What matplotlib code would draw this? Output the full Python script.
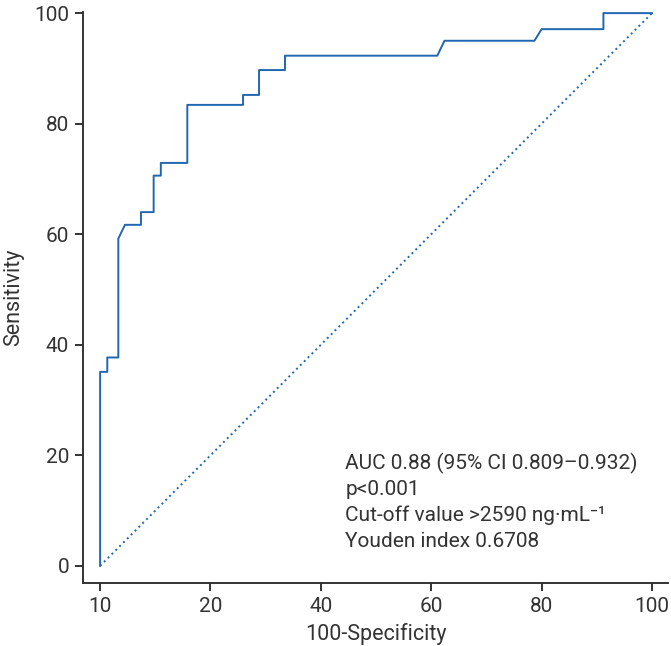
import matplotlib
matplotlib.use('Agg')
import matplotlib.pyplot as plt

# ROC curve vertices (x = 100-specificity, y = sensitivity)
fpr = [0, 0, 1.3, 1.3, 3.3, 3.3, 4.5, 7.4, 7.4, 9.7, 9.7, 11.0, 11.0, 15.8, 15.8,
       25.9, 25.9, 28.8, 28.8, 33.5, 33.5, 61.1, 62.4, 78.7, 80.0, 91.2, 91.2, 100]
tpr = [0, 35.1, 35.1, 37.7, 37.7, 59.2, 61.7, 61.7, 64.0, 64.0, 70.6, 70.6, 72.9, 72.9, 83.4,
       83.4, 85.2, 85.2, 89.7, 89.7, 92.3, 92.3, 95.0, 95.0, 97.1, 97.1, 100, 100]
ref_x = [0, 100]
ref_y = [0, 100]

xticks = [0, 20, 40, 60, 80, 100]
xtick_labels = ['10', '20', '40', '60', '80', '100']
yticks = [0, 20, 40, 60, 80, 100]

notes = ['AUC 0.88 (95% CI 0.809\u20130.932)',
         'p<0.001',
         'Cut-off value >2590 ng\u00b7mL\u207b\u00b9',
         'Youden index 0.6708']

plt.rcParams['font.family'] = ['Roboto', 'DejaVu Sans']
dark = '#333333'
blue = '#2166b0'

fig = plt.figure(figsize=(6.71, 6.46), dpi=100)
ax = fig.add_axes([0.1237, 0.0975, 0.8718, 0.8839])

ax.plot(fpr, tpr, color=blue, lw=1.4)
ax.plot(ref_x, ref_y, color=blue, lw=1.4, linestyle=(0, (1, 1.8)))

ax.set_xlim(-3.1, 102.9)
ax.set_ylim(-3.1, 100.2)
ax.set_xticks(xticks)
ax.set_xticklabels(xtick_labels)
ax.set_yticks(yticks)

for s in ['top', 'right']:
    ax.spines[s].set_visible(False)
for s in ['left', 'bottom']:
    ax.spines[s].set_color(dark)
    ax.spines[s].set_linewidth(1.4)
ax.tick_params(colors=dark, labelsize=15, length=6, width=1.4, direction='out', pad=4)

ax.set_xlabel('100-Specificity', fontsize=15.5, color=dark, labelpad=5)
ax.set_ylabel('Sensitivity', fontsize=15.5, color=dark, labelpad=7)

ax.text(44.4, 11.6, '\n'.join(notes), fontsize=15, color=dark,
        va='center', ha='left', linespacing=1.42)

fig.savefig('out.png', dpi=100)
